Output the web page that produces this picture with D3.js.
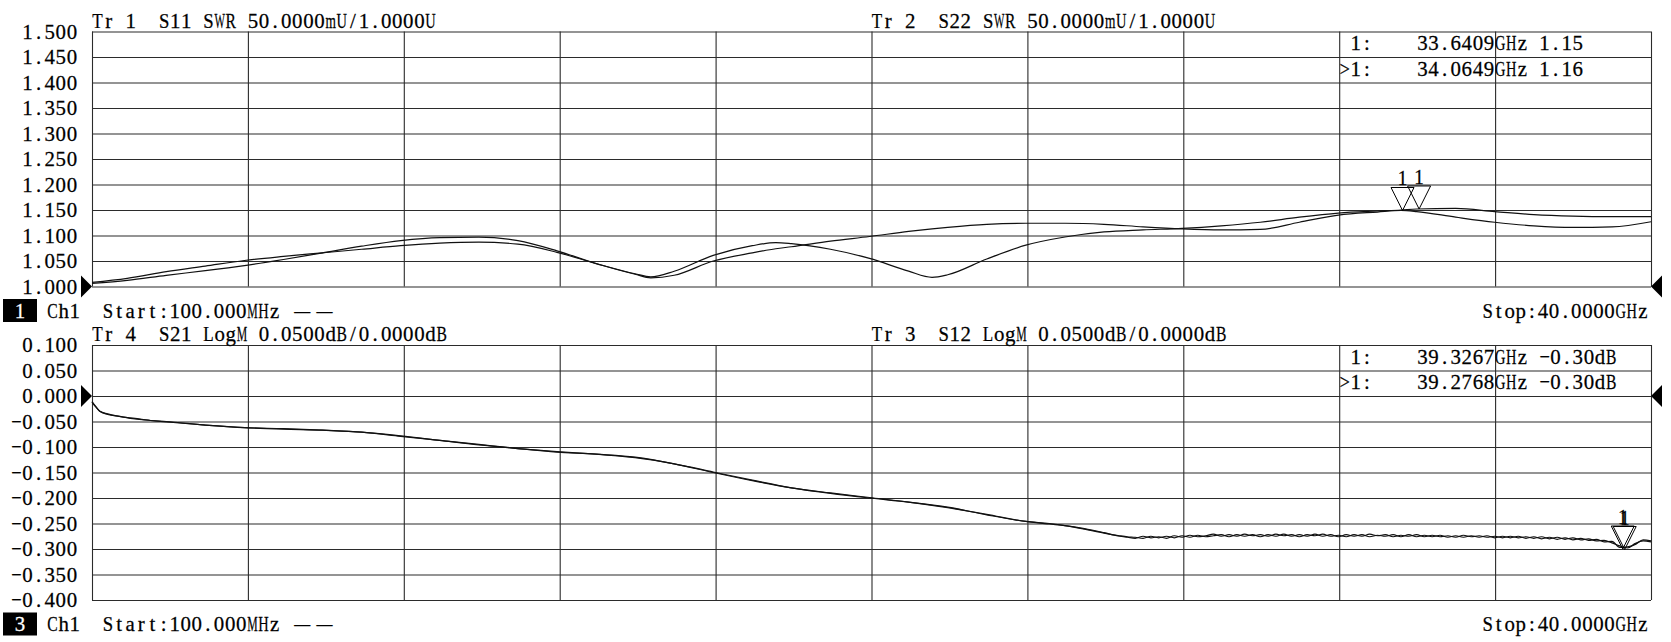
<!DOCTYPE html>
<html>
<head>
<meta charset="utf-8">
<script src="https://cdn.jsdelivr.net/npm/d3@7"></script>
<style>
    html, body { margin: 0; padding: 0; background: #fff; overflow: hidden; }
</style>
</head>
<body>
<div id="chart"></div>
<script>
'use strict';

// ---- upper channel: SWR traces (Tr 1 = S11, Tr 2 = S22), frequency in GHz ----
var topFreq = [0.1, 1, 2, 3, 4, 5, 6, 7, 8, 9, 10, 11, 12, 13, 14, 14.4, 15, 16, 17, 17.6, 18, 19, 20,
    21, 21.6, 22, 23, 24, 25, 26, 27, 28, 29, 30, 31, 32, 33, 33.6, 34, 35, 36, 37, 38, 39, 40];
var s11Swr = [1.006, 1.012, 1.022, 1.031, 1.041, 1.053, 1.066, 1.079, 1.090, 1.096, 1.097, 1.090, 1.070,
    1.045, 1.024, 1.017, 1.022, 1.050, 1.066, 1.074, 1.078, 1.089, 1.098, 1.108, 1.113, 1.116, 1.122,
    1.124, 1.124, 1.122, 1.117, 1.113, 1.111, 1.112, 1.126, 1.140, 1.146, 1.149, 1.147, 1.136, 1.126,
    1.119, 1.116, 1.117, 1.127];
var s22Swr = [1.008, 1.016, 1.029, 1.040, 1.051, 1.059, 1.066, 1.073, 1.080, 1.085, 1.087, 1.083, 1.067,
    1.045, 1.025, 1.019, 1.030, 1.061, 1.080, 1.086, 1.084, 1.073, 1.055, 1.030, 1.018, 1.023, 1.054,
    1.081, 1.097, 1.107, 1.111, 1.114, 1.119, 1.126, 1.136, 1.144, 1.148, 1.150, 1.152, 1.153, 1.147,
    1.141, 1.138, 1.137, 1.137];
var swrTicks = [1.5, 1.45, 1.4, 1.35, 1.3, 1.25, 1.2, 1.15, 1.1, 1.05, 1.0];
var topMarkerFreq = [33.6409, 34.0649];
var topMarkerSwr = [1.149, 1.152];
var topMarkerText = [' 1:    33.6409GHz 1.15', '>1:    34.0649GHz 1.16'];

// ---- lower channel: LogM traces (Tr 4 = S21, Tr 3 = S12), dB ----
var lowFreq = [0.1, 0.2, 0.3, 0.5, 0.8, 1.2, 1.6, 2, 3, 4, 5, 6, 7, 8, 9, 10, 11, 12, 13, 14, 15, 16,
    17, 18, 19, 20, 21, 22, 23, 24, 24.6, 25, 25.5, 26, 26.4,
    26.6, 26.8, 27.0, 27.2, 27.4, 27.6, 27.8, 28.0, 28.2, 28.4, 28.6, 28.8, 29.0, 29.2, 29.4, 29.6,
    29.8, 30.0, 30.2, 30.4, 30.6, 30.8, 31.0, 31.2, 31.4, 31.6, 31.8, 32.0, 32.2, 32.4, 32.6, 32.8,
    33.0, 33.2, 33.4, 33.6, 33.8, 34.0, 34.2, 34.4, 34.6, 34.8, 35.0, 35.2, 35.4, 35.6, 35.8, 36.0,
    36.2, 36.4, 36.6, 36.8, 37.0, 37.2, 37.4, 37.6, 37.8, 38.0, 38.2, 38.4, 38.6, 38.8, 39.0, 39.2,
    39.4, 39.6, 39.8, 40.0];
var s21Db = [-0.012, -0.022, -0.030, -0.036, -0.040, -0.045, -0.048, -0.051, -0.057, -0.062, -0.065,
    -0.067, -0.071, -0.078, -0.087, -0.096, -0.103, -0.109, -0.114, -0.120, -0.133, -0.150, -0.166,
    -0.180, -0.191, -0.200, -0.208, -0.218, -0.233, -0.246, -0.251, -0.254, -0.260, -0.268, -0.275,
    -0.277, -0.279, -0.275, -0.278, -0.276, -0.279, -0.274, -0.277, -0.273, -0.276, -0.274, -0.271,
    -0.275, -0.272, -0.275, -0.271, -0.274, -0.272, -0.275, -0.271, -0.274, -0.272, -0.276, -0.272,
    -0.274, -0.271, -0.275, -0.273, -0.276, -0.272, -0.275, -0.271, -0.274, -0.272, -0.276, -0.273,
    -0.275, -0.272, -0.276, -0.273, -0.276, -0.274, -0.277, -0.273, -0.276, -0.274, -0.277, -0.275,
    -0.278, -0.275, -0.278, -0.276, -0.279, -0.276, -0.280, -0.277, -0.281, -0.278, -0.282, -0.280,
    -0.284, -0.283, -0.288, -0.294, -0.298, -0.289, -0.284, -0.286];
var s12Db = [-0.011, -0.021, -0.030, -0.035, -0.040, -0.044, -0.048, -0.050, -0.057, -0.062, -0.064,
    -0.067, -0.071, -0.079, -0.087, -0.095, -0.103, -0.110, -0.114, -0.121, -0.133, -0.149, -0.165,
    -0.180, -0.190, -0.199, -0.208, -0.219, -0.232, -0.246, -0.250, -0.254, -0.261, -0.269, -0.274,
    -0.276, -0.277, -0.279, -0.275, -0.278, -0.275, -0.278, -0.274, -0.277, -0.273, -0.276, -0.274,
    -0.272, -0.276, -0.272, -0.275, -0.272, -0.276, -0.272, -0.275, -0.271, -0.275, -0.272, -0.275,
    -0.271, -0.275, -0.272, -0.276, -0.272, -0.275, -0.272, -0.276, -0.273, -0.275, -0.272, -0.276,
    -0.272, -0.276, -0.273, -0.276, -0.273, -0.277, -0.274, -0.277, -0.274, -0.277, -0.274, -0.278,
    -0.275, -0.278, -0.275, -0.279, -0.276, -0.280, -0.277, -0.281, -0.278, -0.282, -0.279, -0.283,
    -0.281, -0.286, -0.285, -0.297, -0.296, -0.291, -0.282, -0.284];
var dbTicks = [0.1, 0.05, 0, -0.05, -0.1, -0.15, -0.2, -0.25, -0.3, -0.35, -0.4];
var lowMarkerFreq = [39.3267, 39.2768];
var lowMarkerDb = [-0.301, -0.300];
var lowMarkerText = [' 1:    39.3267GHz \u22120.30dB', '>1:    39.2768GHz \u22120.30dB'];

var sweepStart = 0.1, sweepStop = 40;

// ---- layout ----
var W = 1671, H = 642,
    PL = 92, PR = 1651, PH = 255,
    FONT = "'Liberation Serif', 'Times New Roman', serif",
    FS = 22, CW = 11.1;

var svg = d3.select('#chart').append('svg')
    .attr('width', W)
    .attr('height', H)
    .style('display', 'block');

svg.append('rect').attr('width', W).attr('height', H).attr('fill', '#fff');

var widthCache = {};

function glyphWidth(c, size) {
    var key = c + '|' + size;
    if (!(key in widthCache)) {
        var t = svg.append('text').attr('font-family', FONT).attr('font-size', size).text(c);
        widthCache[key] = t.node().getComputedTextLength();
        t.remove();
    }
    return widthCache[key];
}

// Instrument font is fixed-pitch: every glyph is squeezed into its own cell.
function monoText(parent, str, x0, y, opts) {
    opts = opts || {};
    var size = opts.size || FS,
        cw = opts.cw || CW,
        chars = Array.from(str),
        units = chars.map(function (c) { return c === '\u2014' ? 2 : 1; }),
        total = d3.sum(units) * cw,
        start = opts.anchor === 'end' ? x0 - total : (opts.anchor === 'middle' ? x0 - total / 2 : x0),
        pos = start;

    var g = parent.append('g')
        .attr('font-family', FONT)
        .attr('font-size', size)
        .attr('fill', opts.fill || '#000')
        .attr('stroke', opts.fill || '#000')
        .attr('stroke-width', 0.25);

    chars.forEach(function (c, i) {
        var cell = units[i] * cw;
        if (c !== ' ') {
            var nat = glyphWidth(c, size),
                maxW = c === '\u2014' ? cell * 0.72 : cell * 0.94,
                w = Math.min(nat * 0.95, maxW),
                s = w / nat,
                cx = pos + cell / 2,
                t = g.append('text')
                    .attr('x', cx.toFixed(2))
                    .attr('y', y)
                    .attr('text-anchor', 'middle')
                    .text(c);
            if (Math.abs(s - 1) > 0.01) {
                t.attr('transform', 'matrix(' + s.toFixed(4) + ',0,0,1,' + (cx * (1 - s)).toFixed(3) + ',0)');
            }
        }
        pos += cell;
    });

    return g;
}

var fmt = d3.format('.3f');

var panels = [
    {
        top: 31.5, domain: [1.0, 1.5], ticks: swrTicks, ref: 1.0,
        headers: ['Tr 1  S11 SWR 50.0000mU/1.0000U', 'Tr 2  S22 SWR 50.0000mU/1.0000U'],
        freq: topFreq, series: [s11Swr, s22Swr],
        markerFreq: topMarkerFreq, markerVal: topMarkerSwr, markerText: topMarkerText,
        channel: '1'
    },
    {
        top: 345, domain: [-0.4, 0.1], ticks: dbTicks, ref: 0,
        headers: ['Tr 4  S21 LogM 0.0500dB/0.0000dB', 'Tr 3  S12 LogM 0.0500dB/0.0000dB'],
        freq: lowFreq, series: [s21Db, s12Db],
        markerFreq: lowMarkerFreq, markerVal: lowMarkerDb, markerText: lowMarkerText,
        channel: '3'
    }
];

panels.forEach(function (p) {
    var bottom = p.top + PH,
        x = d3.scaleLinear().domain([sweepStart, sweepStop]).range([PL, PR]),
        y = d3.scaleLinear().domain(p.domain).range([bottom, p.top]),
        div = d3.scaleLinear().domain([0, 10]).range([PL, PR]),
        g = svg.append('g');

    // grid: 10 x 10 divisions
    g.append('g')
        .attr('transform', 'translate(0,' + bottom + ')')
        .call(d3.axisBottom(div).tickValues(d3.range(11)).tickSize(-PH).tickFormat(''));
    g.append('g')
        .attr('transform', 'translate(' + PL + ',0)')
        .call(d3.axisLeft(y).tickValues(p.ticks).tickSize(-(PR - PL)).tickFormat(''));
    g.selectAll('.domain').remove();
    g.selectAll('.tick line').attr('stroke', '#2b2b2b').attr('stroke-width', 1.1);

    // scale labels
    p.ticks.forEach(function (v) {
        monoText(g, fmt(v), 77.5, y(v) + 7.5, {anchor: 'end'});
    });

    // headers
    monoText(g, p.headers[0], div(0), p.top - 3.5);
    monoText(g, p.headers[1], div(5), p.top - 3.5);

    // reference level arrows
    var ry = y(p.ref);
    g.append('path')
        .attr('d', 'M' + (PL - 11) + ',' + (ry - 11) + 'L' + PL + ',' + ry + 'L' + (PL - 11) + ',' + (ry + 11) + 'Z')
        .attr('fill', '#000');
    g.append('path')
        .attr('d', 'M' + (PR + 11) + ',' + (ry - 11) + 'L' + PR + ',' + ry + 'L' + (PR + 11) + ',' + (ry + 11) + 'Z')
        .attr('fill', '#000');

    // traces
    var line = d3.line()
        .x(function (d, i) { return x(p.freq[i]); })
        .y(function (d) { return y(d); })
        .curve(d3.curveMonotoneX);

    p.series.forEach(function (s) {
        g.append('path')
            .datum(s)
            .attr('d', line)
            .attr('fill', 'none')
            .attr('stroke', '#111')
            .attr('stroke-width', 1.2)
            .attr('stroke-linejoin', 'round');
    });

    // markers
    p.markerFreq.forEach(function (f, i) {
        var tx = x(f), ty = y(p.markerVal[i]);
        g.append('path')
            .attr('d', 'M' + (tx - 11.5) + ',' + (ty - 23) + 'L' + (tx + 11.5) + ',' + (ty - 23) + 'L' + tx + ',' + ty + 'Z')
            .attr('fill', 'none')
            .attr('stroke', '#000')
            .attr('stroke-width', 1);
        monoText(g, '1', tx, ty - 25, {anchor: 'middle', size: 20});
    });

    // marker readout
    p.markerText.forEach(function (t, i) {
        monoText(g, t, div(8), p.top + 19 + i * 25.5);
    });

    // channel footer
    var fy = bottom + 31.5;
    g.append('rect')
        .attr('x', 3).attr('y', fy - 19)
        .attr('width', 34).attr('height', 23)
        .attr('fill', '#000');
    monoText(g, p.channel, 20, fy, {anchor: 'middle', fill: '#fff'});
    monoText(g, 'Ch1  Start:100.000MHz \u2014\u2014', 47, fy);
    monoText(g, 'Stop:40.0000GHz', 1648.5, fy, {anchor: 'end'});
});
</script>
</body>
</html>
